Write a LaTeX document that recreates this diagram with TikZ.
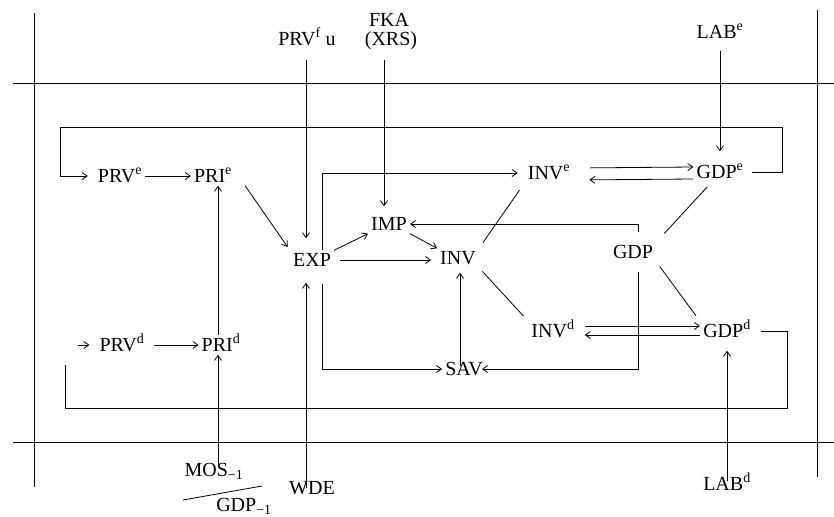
\documentclass[tikz,border=0pt]{standalone}
\usepackage{fontspec}
\setmainfont{Liberation Serif}
\usetikzlibrary{arrows.meta}
\begin{document}
\begin{tikzpicture}[x=1pt,y=-1pt,
  lbl/.style={inner sep=3pt, text height=13pt, text depth=0pt, font=\fontsize{20}{22}\selectfont},
  ln/.style={line width=0.8pt},
  arr/.style={ln, -{Straight Barb[length=5pt,width=7pt]}}]
\useasboundingbox (0,0) rectangle (834,516);
% frame lines
\draw[ln] (34,13) -- (34,487);
\draw[ln] (817,10) -- (817,477);
\draw[ln] (13,83) -- (834,83);
\draw[ln] (13,442) -- (834,442);
% nodes
\node[lbl] (PRVe) at (120,176) {PRV\textsuperscript{e}};
\node[lbl] (PRIe) at (213,176) {PRI\textsuperscript{e}};
\node[lbl] (PRVd) at (122,345) {PRV\textsuperscript{d}};
\node[lbl] (PRId) at (221,345) {PRI\textsuperscript{d}};
\node[lbl] (EXP) at (312,260) {EXP};
\node[lbl] (IMP) at (389,224) {IMP};
\node[lbl] (INV) at (458,258) {INV};
\node[lbl] (INVe) at (549,173) {INV\textsuperscript{e}};
\node[lbl] (GDPe) at (720,172) {GDP\textsuperscript{e}};
\node[lbl] (GDP) at (633,252) {GDP};
\node[lbl] (INVd) at (553,331) {INV\textsuperscript{d}};
\node[lbl] (GDPd) at (727,331) {GDP\textsuperscript{d}};
\node[lbl] (SAV) at (464,369) {SAV};
\node[lbl] (PRVf) at (307,39) {PRV\textsuperscript{f} u};
\node[lbl] (XRS) at (391,39) {(XRS)};
\node[lbl] (FKA) at (389,20) {FKA};
\node[lbl] (LABe) at (720,32) {LAB\textsuperscript{e}};
\node[lbl] (LABd) at (727,484) {LAB\textsuperscript{d}};
\node[lbl] (MOS) at (214,470) {MOS\textsubscript{−1}};
\node[lbl] (GDPm) at (244,505) {GDP\textsubscript{−1}};
\node[lbl] (WDE) at (312,488) {WDE};
% helper coordinates
\coordinate (colPRI) at (218,0);
\coordinate (colEXP) at (306,0);
\coordinate (colR) at (322,0);
\coordinate (colIMP) at (384,0);
\coordinate (colINV) at (460,0);
\coordinate (colG) at (638,0);
\coordinate (tr) at (782,127);
\coordinate (tl) at (60,127);
\coordinate (br) at (787,408);
\coordinate (bl) at (65,408);
\coordinate (blt) at (65,365);
\coordinate (stub) at (78,345);
\coordinate (fracA) at (183,500);
\coordinate (fracB) at (262,486);
% fraction bar
\draw[ln] (fracA) -- (fracB);
% connectors
\draw[arr] (PRVe.east) -- (PRIe.west);
\draw[arr,shorten <=6pt] (PRVd.east) -- (PRId.west);
\draw[arr] (PRId.north -| colPRI) -- (PRIe.south -| colPRI);
\draw[arr,shorten <=-7pt] (MOS.north -| colPRI) -- (PRId.south -| colPRI);
\draw[arr,shorten >=4pt] ([xshift=10pt]PRIe.south east) -- (EXP.north west);
\draw[arr,shorten <=-10pt,shorten >=13pt] (WDE.north -| colEXP) -- (EXP.south -| colEXP);
\draw[arr,shorten <=11pt,shorten >=12pt] (PRVf.south -| colEXP) -- (EXP.north -| colEXP);
\draw[arr,shorten <=11pt,shorten >=8pt] (XRS.south -| colIMP) -- (IMP.north -| colIMP);
\draw[arr,shorten >=7pt] (EXP.north -| colR) |- (INVe.west);
\draw[arr,shorten <=14pt] (EXP.south -| colR) |- (SAV.west);
\draw[arr,shorten <=6pt,shorten >=6pt] (EXP.east) -- (EXP.east -| INV.west);
\draw[arr] (EXP.north east) -- (IMP.south west);
\draw[arr] (IMP.south east) -- (INV.north west);
\draw[arr,shorten <=10pt] (GDP.north -| colG) |- (IMP.east);
\draw[arr,shorten <=10pt,shorten >=-4pt] (GDP.south -| colG) |- (SAV.east);
\draw[arr,shorten <=-7pt,shorten >=5pt] (SAV.north -| colINV) -- (INV.south -| colINV);
\draw[arr,shorten <=9pt,shorten >=11pt] (LABe.south) -- (GDPe.north);
\draw[arr,shorten <=-7pt,shorten >=10pt] (LABd.north) -- (GDPd.south);
\draw[arr,shorten <=17pt] ([yshift=5pt]INVe.east) -- ([yshift=5pt]GDPe.west);
\draw[arr,shorten >=16pt] ([yshift=-7pt]GDPe.west) -- ([yshift=-7pt]INVe.east);
\draw[arr,shorten <=7pt] ([yshift=5pt]INVd.east) -- ([yshift=5pt]GDPd.west);
\draw[arr,shorten >=7pt] ([yshift=-4pt]GDPd.west) -- ([yshift=-4pt]INVd.east);
\draw[ln,shorten <=9pt,shorten >=7pt] (INVe.south west) -- (INV.north east);
\draw[ln,shorten <=7pt,shorten >=12pt] ([xshift=-8pt]GDPe.south) -- (GDP.north east);
\draw[ln,shorten <=6pt,shorten >=7pt] (GDP.south east) -- (GDPd.north west);
\draw[ln,shorten <=5pt,shorten >=7pt] (INV.south east) -- (INVd.north west);
% feedback loops
\draw[arr,shorten <=5pt,shorten >=7pt] (GDPe.east) -| (tr) -- (tl) |- (PRVe.west);
\draw[ln,shorten <=7pt] (GDPd.east) -| (br) -- (bl) -- (blt);
\draw[arr,shorten >=7pt] (stub) -- (PRVd.west);
\end{tikzpicture}
\end{document}
